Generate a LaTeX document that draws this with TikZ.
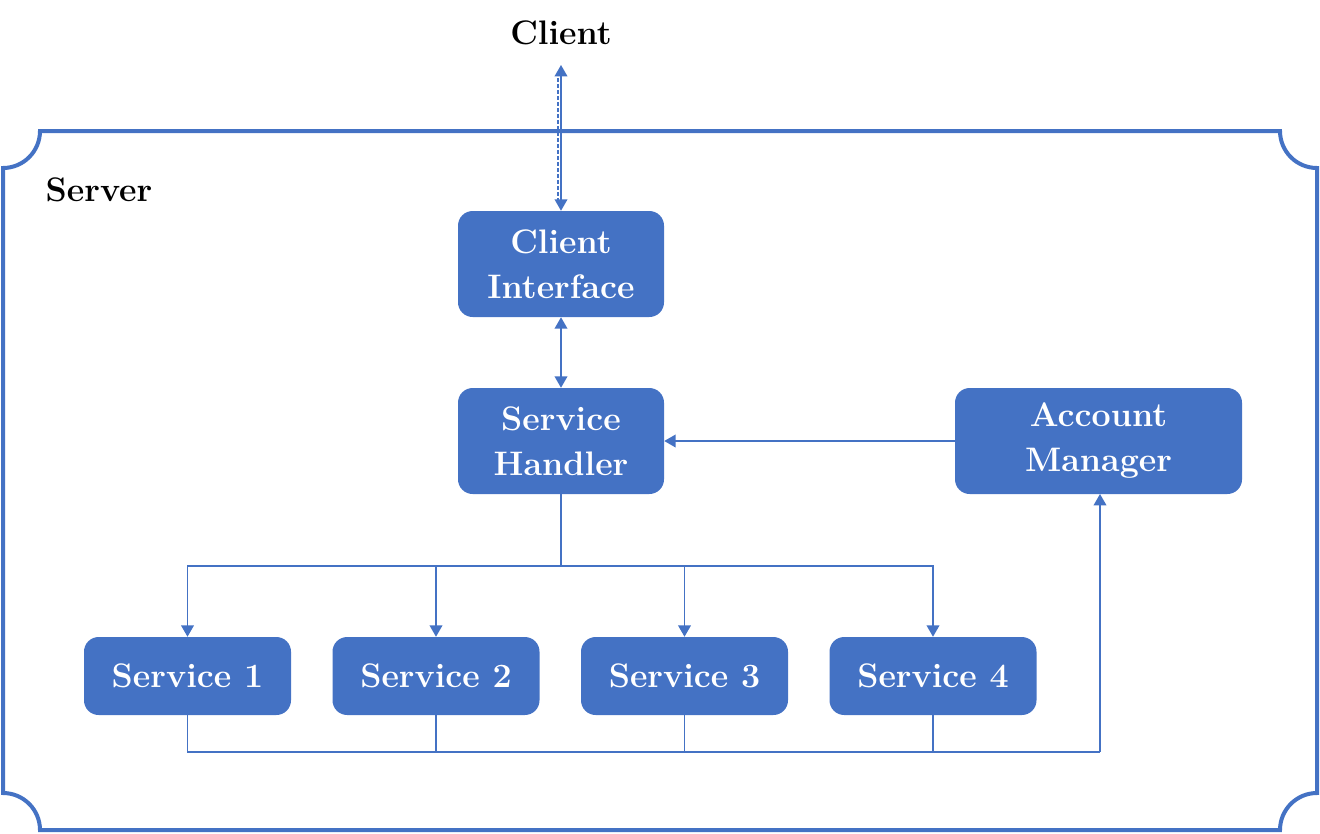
\documentclass[tikz,border=0pt]{standalone}
\usetikzlibrary{arrows.meta}
\definecolor{bl}{HTML}{4472C4}
\begin{document}
\begin{tikzpicture}[x=0.75pt,y=-0.75pt,
  >={Triangle[length=8.5pt,width=9.5pt]},
  box/.style={fill=bl, rounded corners=11pt, text=white, font=\fontsize{25.5}{33.75}\selectfont\bfseries, align=center, inner sep=0pt},
  big/.style={minimum width=154.5pt, minimum height=79.5pt},
  svc/.style={minimum width=155.25pt, minimum height=58.5pt},
  conn/.style={draw=bl, line width=1.1pt},
  lbl/.style={font=\fontsize{25.5}{28}\selectfont\bfseries, text=black}]
\useasboundingbox (0,0) rectangle (1320,833);
% server border with concave corners
\draw[bl, line width=3pt] (40,131) -- (1280,131)
  arc[start angle=180, end angle=90, radius=37]
  -- (1317,793)
  arc[start angle=270, end angle=180, radius=37]
  -- (40,830)
  arc[start angle=0, end angle=-90, radius=37]
  -- (3,168)
  arc[start angle=90, end angle=0, radius=37] -- cycle;
\node[lbl, anchor=west] (server) at (41,190) {Server};
\node[lbl] (client) at (561,33) {Client};

\node[box, big] (ci) at (561,264) {Client\\Interface};
\node[box, big] (sh) at (561,441) {Service\\Handler};
\node[box, big, minimum width=215.25pt] (am) at (1098.5,441) {Account\\Manager};
\node[box, svc] (s1) at (187.5,676) {Service 1};
\node[box, svc] (s2) at (436,676) {Service 2};
\node[box, svc] (s3) at (684.5,676) {Service 3};
\node[box, svc] (s4) at (933,676) {Service 4};

\coordinate (ctip) at (561,65);
\coordinate (da) at (558,78);
\coordinate (db) at (558,200);
\coordinate (bus1) at (561,566);
\coordinate (bus2) at (1100,752);
\coordinate (amb) at (1100,494);

\draw[conn, <->] (ctip) -- (ci.north);
\draw[draw=bl, line width=0.8pt, dash pattern=on 3pt off 1.5pt] (da) -- (db);
\draw[conn, <->] (ci.south) -- (sh.north);
\draw[conn, ->] (am.west) -- (sh.east);
\draw[conn] (sh.south) -- (bus1);
\foreach \s in {s1,s2,s3,s4}{
  \draw[conn, ->] (bus1) -| (\s.north);
  \draw[conn] (\s.south) |- (bus2);
}
\draw[conn, ->] (bus2) -- (amb);
\end{tikzpicture}
\end{document}
